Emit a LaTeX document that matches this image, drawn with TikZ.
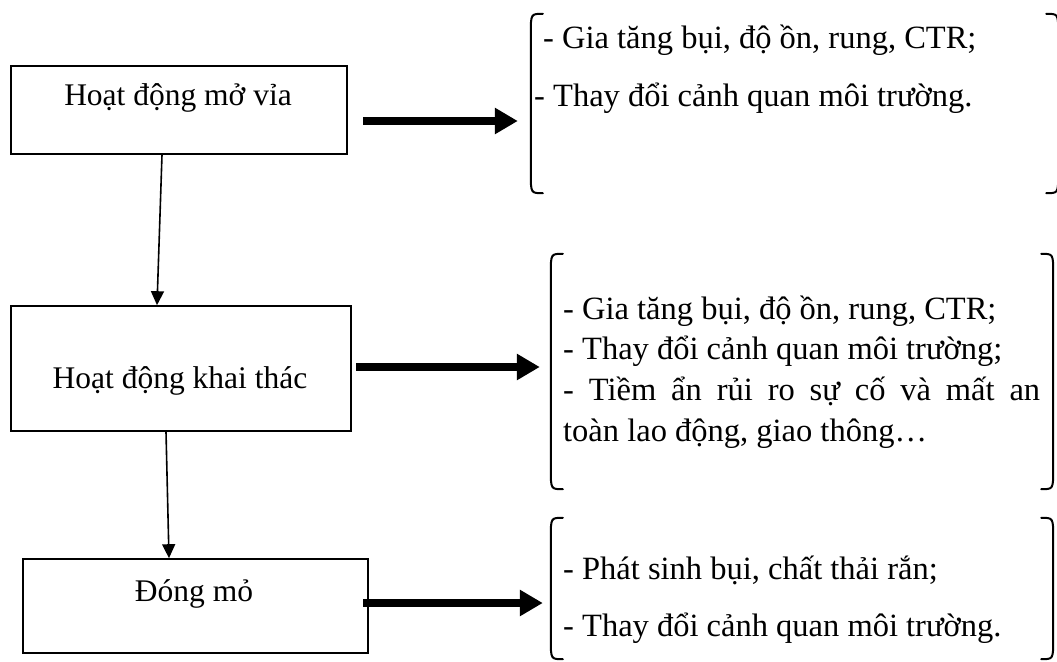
\documentclass[tikz,border=0pt]{standalone}
\usepackage{fontspec}
\setmainfont{Liberation Serif}
\usetikzlibrary{arrows.meta}
\begin{document}
\begin{tikzpicture}[x=1pt,y=-1pt,
  txt/.style={font=\fontsize{31.5}{38}\selectfont, inner sep=0pt},
  linetxt/.style={font=\fontsize{32.5}{39}\selectfont, inner sep=0pt, anchor=mid west},
  boxnode/.style={draw, line width=1.6pt, inner sep=0pt},
  region/.style={inner sep=0pt},
  brk/.style={line width=2pt, line cap=round},
  bigarrow/.style={line width=8pt, -{Triangle[length=23pt,width=25pt]}},
  smallarrow/.style={line width=1.6pt, -{Triangle[length=14pt,width=13pt]}}
]
\useasboundingbox (0,0) rectangle (1057,661);
% boxes
\node[boxnode, minimum width=336pt, minimum height=88pt] (b1) at (179,110) {};
\node[boxnode, minimum width=340pt, minimum height=125pt] (b2) at (181,368.5) {};
\node[boxnode, minimum width=345pt, minimum height=94pt] (b3) at (195.5,606) {};
\node[txt, anchor=mid] (t1) at (178,103) {Hoạt động mở vỉa};
\node[txt, anchor=mid] (t2) at (180,386) {Hoạt động khai thác};
\node[txt, anchor=mid] (t3) at (194,599) {Đóng mỏ};
% bracket regions
\node[region, minimum width=527pt, minimum height=179pt] (g1) at (794.5,103.5) {};
\node[region, minimum width=502pt, minimum height=235pt] (g2) at (802,371.5) {};
\node[region, minimum width=502pt, minimum height=141pt] (g3) at (802,588.5) {};
\foreach \g in {g1,g2,g3}{
  \draw[brk] ([xshift=12pt]\g.north west) .. controls (\g.north west) .. ([yshift=-20pt]\g.north west)
     -- ([yshift=20pt]\g.south west) .. controls (\g.south west) .. ([xshift=12pt]\g.south west);
  \draw[brk] ([xshift=-12pt]\g.north east) .. controls (\g.north east) .. ([yshift=-20pt]\g.north east)
     -- ([yshift=20pt]\g.south east) .. controls (\g.south east) .. ([xshift=-12pt]\g.south east);
}
% bracket texts
\node[linetxt] (g1a) at (543,46) {- Gia tăng bụi, độ ồn, rung, CTR;};
\node[linetxt] (g1b) at (534,104) {- Thay đổi cảnh quan môi trường.};
\node[linetxt] (g2a) at (563,317) {- Gia tăng bụi, độ ồn, rung, CTR;};
\node[linetxt] (g2b) at (563,357) {- Thay đổi cảnh quan môi trường;};
\node[linetxt] (g2c) at (563,398) {\makebox[477pt][s]{- Tiềm ẩn rủi ro sự cố và mất an}};
\node[linetxt] (g2d) at (563,439) {toàn lao động, giao thông…};
\node[linetxt] (g3a) at (563,577) {- Phát sinh bụi, chất thải rắn;};
\node[linetxt] (g3b) at (563,634) {- Thay đổi cảnh quan môi trường.};
% connectors
\draw[smallarrow] ([xshift=-17pt]b1.south) -- ([xshift=-24pt]b2.north);
\draw[smallarrow] ([xshift=-15pt]b2.south) -- ([xshift=-26.5pt]b3.north);
\coordinate (s1) at (363,121);
\coordinate (s2) at (356,367);
\coordinate (s3) at (363,603);
\draw[bigarrow, shorten >=13pt] (s1) -- (g1.west |- s1);
\draw[bigarrow, shorten >=11pt] (s2) -- (g2.west |- s2);
\draw[bigarrow, shorten >=8pt] (s3) -- (g3.west |- s3);
\end{tikzpicture}
\end{document}
